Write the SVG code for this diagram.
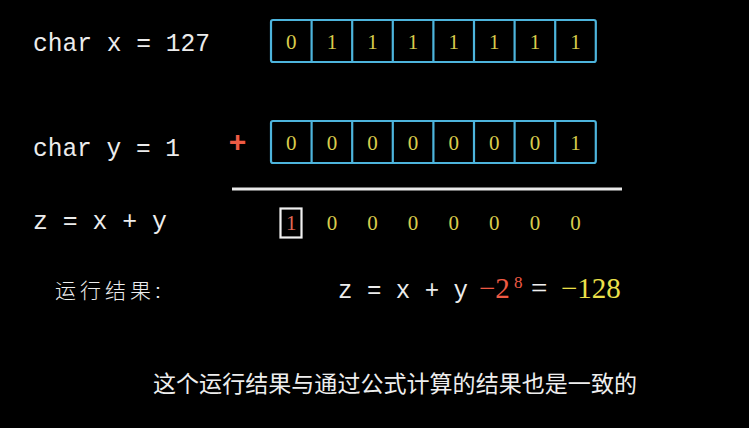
<svg xmlns="http://www.w3.org/2000/svg" width="749" height="428" viewBox="0 0 749 428">
<style>
.mono{font-family:"Liberation Mono","DejaVu Sans Mono",monospace;fill:#ececec;font-size:26px}
.bit{font-family:"Liberation Serif","DejaVu Serif",serif;fill:#d9cc4c;font-size:21px;text-anchor:middle}
.cell{fill:none;stroke:#4db4dc;stroke-width:2.2}
.math{font-family:"Liberation Serif","DejaVu Serif",serif;font-size:29px}
.sup{font-family:"Liberation Serif","DejaVu Serif",serif;font-size:17px}
.cjk{font-family:"Liberation Sans","Noto Sans CJK SC",sans-serif;fill:#eeeeee}
</style>
<rect width="749" height="428" fill="#000"/>
<g id="label-x"><text class="mono" x="33" y="51" textLength="177" lengthAdjust="spacingAndGlyphs">char x = 127</text></g>
<g id="label-y"><text class="mono" x="33" y="156" textLength="147" lengthAdjust="spacingAndGlyphs">char y = 1</text></g>
<g id="label-z"><text class="mono" x="33" y="229" textLength="134" lengthAdjust="spacingAndGlyphs">z = x + y</text></g>
<g id="plus"><text x="237.5" y="152" style="font-family:'Liberation Sans',sans-serif;font-size:30px;font-weight:bold" fill="#ee5a44" text-anchor="middle">+</text></g>
<g id="box-x">
<rect class="cell" x="271" y="20" width="324.8" height="42" rx="2"/>
<path class="cell" d="M311.6 20V62M352.2 20V62M392.8 20V62M433.4 20V62M474 20V62M514.6 20V62M555.2 20V62"/>
<text class="bit" x="291.3" y="49">0</text><text class="bit" x="331.9" y="49">1</text><text class="bit" x="372.5" y="49">1</text><text class="bit" x="413.1" y="49">1</text><text class="bit" x="453.7" y="49">1</text><text class="bit" x="494.3" y="49">1</text><text class="bit" x="534.9" y="49">1</text><text class="bit" x="575.5" y="49">1</text>
</g>
<g id="box-y">
<rect class="cell" x="271" y="121" width="324.8" height="42" rx="2"/>
<path class="cell" d="M311.6 121V163M352.2 121V163M392.8 121V163M433.4 121V163M474 121V163M514.6 121V163M555.2 121V163"/>
<text class="bit" x="291.3" y="150">0</text><text class="bit" x="331.9" y="150">0</text><text class="bit" x="372.5" y="150">0</text><text class="bit" x="413.1" y="150">0</text><text class="bit" x="453.7" y="150">0</text><text class="bit" x="494.3" y="150">0</text><text class="bit" x="534.9" y="150">0</text><text class="bit" x="575.5" y="150">1</text>
</g>
<g id="connectors"><line x1="232" y1="189" x2="622" y2="189" stroke="#e8e8e8" stroke-width="3"/></g>
<g id="result">
<rect x="280.5" y="208.5" width="21" height="29" fill="none" stroke="#f0f0f0" stroke-width="2.2"/>
<text class="bit" x="291.3" y="230" style="fill:#e06a55">1</text>
<text class="bit" x="331.9" y="230">0</text><text class="bit" x="372.5" y="230">0</text><text class="bit" x="413.1" y="230">0</text><text class="bit" x="453.7" y="230">0</text><text class="bit" x="494.3" y="230">0</text><text class="bit" x="534.9" y="230">0</text><text class="bit" x="575.5" y="230">0</text>
</g>
<g id="run-label"><text class="cjk" x="55" y="298" font-size="21" font-weight="300" letter-spacing="4" fill="#dddddd">运行结果:</text></g>
<g id="formula">
<text class="mono" x="338" y="298" textLength="130" lengthAdjust="spacingAndGlyphs">z = x + y</text>
<text class="math" x="479" y="298" fill="#ee5a44">−2</text>
<text class="sup" x="514" y="288" fill="#ee5a44">8</text>
<text class="math" x="531" y="298" fill="#f0f0f0">=</text>
<text class="math" x="561" y="298" fill="#ece04a">−128</text>
</g>
<g id="subtitle"><text class="cjk" x="153" y="392" font-size="23" textLength="484" lengthAdjust="spacingAndGlyphs">这个运行结果与通过公式计算的结果也是一致的</text></g>
</svg>
